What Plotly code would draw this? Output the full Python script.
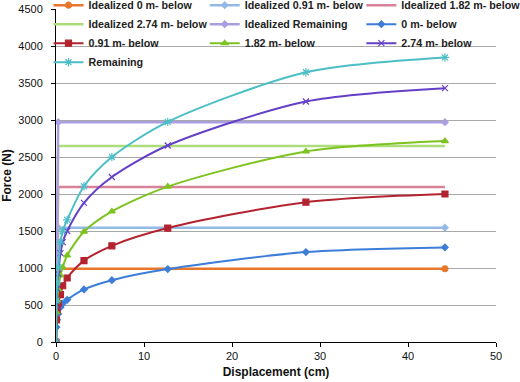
import plotly.graph_objects as go

# Displacement (cm) sample points of the measured curves
disp = [0, 0.05, 0.13, 0.25, 0.51, 0.76, 1.27, 3.18, 6.35, 12.7, 28.4, 44.2]

# Measured force (N)
f_0 = [0, 200, 300, 380, 470, 520, 570, 710, 835, 985, 1215, 1278]
f_091 = [0, 300, 420, 520, 640, 760, 865, 1099, 1300, 1540, 1890, 2000]
f_182 = [0, 400, 560, 710, 900, 1010, 1170, 1490, 1765, 2100, 2575, 2715]
f_274 = [0, 500, 720, 920, 1200, 1350, 1500, 1880, 2230, 2655, 3250, 3430]
f_rem = [0, 560, 800, 1010, 1350, 1500, 1650, 2105, 2500, 2975, 3645, 3845]

# Idealized (elastic-perfectly plastic) curves
ideal_disp = [0, 0.25, 44.2]
ideal_0 = [0, 990, 990]
ideal_091 = [0, 1545, 1545]
ideal_182 = [0, 2095, 2095]
ideal_274 = [0, 2650, 2650]
ideal_rem = [0, 2970, 2970]

names = ["Idealized 0 m- below", "Idealized 0.91 m- below", "Idealized 1.82 m- below",
         "Idealized 2.74 m- below", "Idealized Remaining", "0 m- below",
         "0.91 m- below", "1.82 m- below", "2.74 m- below", "Remaining"]

FONT = "Liberation Sans, Arial, sans-serif"
fig = go.Figure()

def add(x, y, name, color, width, symbol, msize, legend, smooth=True):
    fig.add_trace(go.Scatter(
        x=x, y=y, name=name, mode="lines+markers" if symbol else "lines",
        line=dict(color=color, width=width, shape="spline" if smooth else "linear", smoothing=0.8),
        marker=dict(symbol=symbol or "circle", size=msize, color=color,
                    line=dict(color=color, width=1.2)),
        legend=legend))

# legend columns: col1 legend, col2 legend2, col3 legend3
add(ideal_disp, ideal_0, names[0], "#E8772E", 2.5, "circle", 6, "legend", False)
add(ideal_disp, ideal_091, names[1], "#93B9E6", 2.5, "diamond", 5, "legend2", False)
add(ideal_disp, ideal_182, names[2], "#D9839A", 2.5, None, 5, "legend3", False)
add(ideal_disp, ideal_274, names[3], "#ADDC7A", 2.5, None, 5, "legend", False)
add(ideal_disp, ideal_rem, names[4], "#AB9EE0", 2.5, "diamond", 5, "legend2", False)
add(disp, f_0, names[5], "#3B7DD8", 2, "diamond", 5, "legend3")
add(disp, f_091, names[6], "#B3232F", 2, "square", 6, "legend")
add(disp, f_182, names[7], "#7CC31F", 2, "triangle-up", 6, "legend2")
add(disp, f_274, names[8], "#6440C8", 2, "x-thin", 6, "legend3")
add(disp, f_rem, names[9], "#4CBEC6", 2, "asterisk", 7, "legend")

W, H = 520, 382
ML, MR, MT, MB = 55.5, 24, 9.3, 39.7
PH = H - MT - MB
leg_y = 1 + (MT + 9) / PH
leg_common = dict(font=dict(family=FONT, size=10.7, color="#222", weight="bold"),
                  bgcolor="rgba(0,0,0,0)", yanchor="top", xanchor="left", y=leg_y,
                  itemwidth=30, tracegroupgap=0)
fig.update_layout(
    width=W, height=H,
    margin=dict(l=ML, r=MR, t=MT, b=MB, autoexpand=False),
    paper_bgcolor="white", plot_bgcolor="white",
    font=dict(family=FONT, size=11, color="#111"),
    legend=dict(x=-0.017, **leg_common),
    legend2=dict(x=0.338, **leg_common),
    legend3=dict(x=0.694, **leg_common),
    xaxis=dict(range=[0, 50], dtick=10, showgrid=False, showline=True, linecolor="black",
               linewidth=1, ticks="outside", ticklen=4, tickcolor="black", zeroline=False,
               tickfont=dict(family=FONT, size=11),
               title=dict(text="<b>Displacement (cm)</b>", font=dict(family=FONT, size=12), standoff=6)),
    yaxis=dict(range=[0, 4500], dtick=500, showgrid=True, gridcolor="#A8A8A8", gridwidth=1,
               showline=True, linecolor="black", linewidth=1, ticks="outside", ticklen=4,
               tickcolor="black", zeroline=False, ticklabelstandoff=6, ticklabeloverflow="allow",
               tickfont=dict(family=FONT, size=11),
               title=dict(text="<b>Force (N)</b>", font=dict(family=FONT, size=12), standoff=4)),
)
fig.write_html("out.html", config={"displayModeBar": False},
               post_script="document.body.style.margin='0';document.body.style.padding='0';")
